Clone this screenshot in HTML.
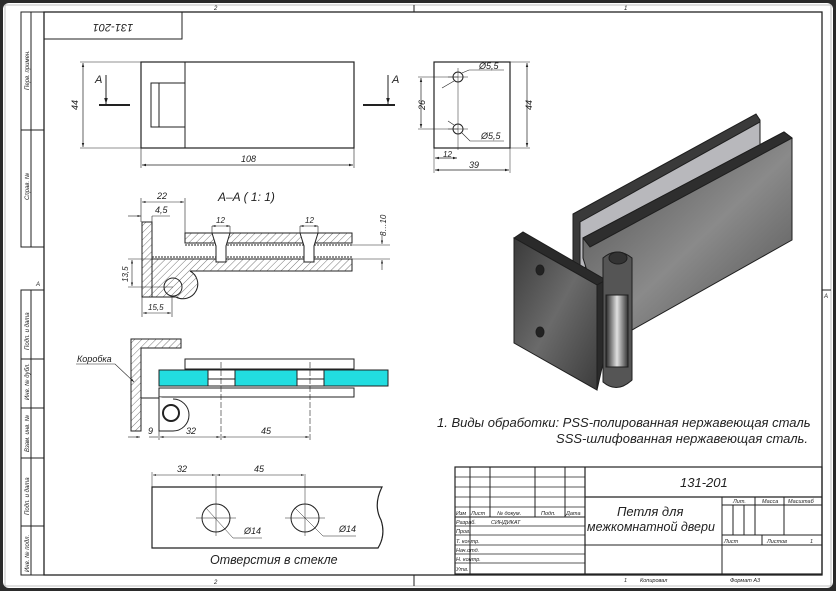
<!DOCTYPE html>
<html><head><meta charset="utf-8"><style>
html,body{margin:0;padding:0;background:#fff;}
svg{display:block;}
text{font-family:"Liberation Sans","DejaVu Sans",sans-serif;font-style:italic;fill:#222;}
</style></head><body>
<svg width="836" height="591" viewBox="0 0 836 591" xmlns="http://www.w3.org/2000/svg">
<defs>
<pattern id="h" width="5" height="5" patternUnits="userSpaceOnUse" patternTransform="rotate(45)">
<rect width="5" height="5" fill="#fff"/><line x1="0" y1="0" x2="0" y2="5" stroke="#555" stroke-width="0.8"/></pattern>
<linearGradient id="g1" x1="0" y1="0" x2="1" y2="1"><stop offset="0" stop-color="#3a3a3a"/><stop offset="0.5" stop-color="#6a6a6a"/><stop offset="1" stop-color="#3c3c3c"/></linearGradient>
<linearGradient id="g2" x1="0" y1="0" x2="1" y2="1"><stop offset="0" stop-color="#4a4a4a"/><stop offset="0.55" stop-color="#8a8a8a"/><stop offset="1" stop-color="#505050"/></linearGradient>
<linearGradient id="g3" x1="0" y1="0" x2="1" y2="0"><stop offset="0" stop-color="#2a2a2a"/><stop offset="0.5" stop-color="#e0e0e0"/><stop offset="1" stop-color="#333"/></linearGradient>
<marker id="a" viewBox="0 0 10 10" refX="10" refY="5" markerWidth="6" markerHeight="6" orient="auto-start-reverse"><path d="M0,2L10,5L0,8z" fill="#222"/></marker>
</defs>
<rect x="0" y="0" width="836" height="591" fill="#2b2b2b"/>
<rect x="3" y="3" width="830" height="585" rx="6" fill="#fff"/>
<g fill="none" stroke="#222" stroke-width="1">
<rect x="5" y="5" width="826" height="581" stroke="#999" stroke-width="0.6"/>
<rect x="44" y="12" width="778" height="563" stroke-width="1.3"/>
<line x1="414" y1="5" x2="414" y2="12"/><line x1="414" y1="575" x2="414" y2="586"/>
<line x1="822" y1="290" x2="831" y2="290"/>
<!-- left stamps -->
<rect x="21" y="12" width="23" height="235"/><line x1="31" y1="12" x2="31" y2="247"/><line x1="21" y1="130" x2="44" y2="130"/>
<rect x="21" y="290" width="23" height="285"/><line x1="31" y1="290" x2="31" y2="575"/>
<line x1="21" y1="359" x2="44" y2="359"/><line x1="21" y1="408" x2="44" y2="408"/><line x1="21" y1="458" x2="44" y2="458"/><line x1="21" y1="526" x2="44" y2="526"/>
<rect x="44" y="12" width="138" height="27"/>
</g>
<text x="214" y="10" font-size="6" stroke="none">2</text><text x="624" y="10" font-size="6">1</text>
<text x="214" y="584" font-size="6">2</text>
<text x="36" y="286" font-size="6">A</text><text x="824" y="298" font-size="6">A</text>
<g font-size="6" fill="#333">
<text transform="translate(29,90) rotate(-90)">Перв. примен.</text>
<text transform="translate(29,200) rotate(-90)">Справ. №</text>
<text transform="translate(29,350) rotate(-90)">Подп. и дата</text>
<text transform="translate(29,400) rotate(-90)">Инв. № дубл.</text>
<text transform="translate(29,452) rotate(-90)">Взам. инв. №</text>
<text transform="translate(29,515) rotate(-90)">Подп. и дата</text>
<text transform="translate(29,572) rotate(-90)">Инв. № подл.</text>
</g>
<text transform="translate(113,24) rotate(180)" font-size="11" text-anchor="middle">131-201</text>

<g fill="none" stroke="#222" stroke-width="1">
<!-- top view -->
<rect x="141" y="62" width="213" height="86" stroke-width="1.2"/>
<line x1="185" y1="62" x2="185" y2="148"/>
<rect x="151" y="83" width="34" height="44"/><line x1="159" y1="83" x2="159" y2="127"/>
<line x1="80" y1="62" x2="141" y2="62" stroke-width="0.6"/><line x1="80" y1="148" x2="141" y2="148" stroke-width="0.6"/>
<line x1="83" y1="63" x2="83" y2="147" stroke-width="0.7" marker-start="url(#a)" marker-end="url(#a)"/>
<line x1="141" y1="148" x2="141" y2="168" stroke-width="0.6"/><line x1="354" y1="148" x2="354" y2="168" stroke-width="0.6"/>
<line x1="142" y1="165" x2="353" y2="165" stroke-width="0.7" marker-start="url(#a)" marker-end="url(#a)"/>
<line x1="106" y1="75" x2="106" y2="104" stroke-width="1" marker-end="url(#a)"/><line x1="99" y1="105" x2="130" y2="105" stroke-width="2"/>
<line x1="388" y1="75" x2="388" y2="104" stroke-width="1" marker-end="url(#a)"/><line x1="363" y1="105" x2="395" y2="105" stroke-width="2"/>
</g>
<text x="78" y="110" font-size="9" transform="rotate(-90 78 110)">44</text>
<text x="241" y="162" font-size="9">108</text>
<text x="95" y="83" font-size="11">A</text><text x="392" y="83" font-size="11">A</text>

<!-- right small view -->
<g fill="none" stroke="#222" stroke-width="1">
<rect x="434" y="62" width="76" height="86" stroke-width="1.2"/>
<circle cx="458" cy="77" r="5"/><circle cx="458" cy="129" r="5"/>
<line x1="458" y1="68" x2="458" y2="150" stroke-width="0.5"/><line x1="448" y1="77" x2="468" y2="77" stroke-width="0.5"/><line x1="448" y1="129" x2="468" y2="129" stroke-width="0.5"/>
<line x1="418" y1="77" x2="458" y2="77" stroke-width="0.5"/><line x1="418" y1="129" x2="458" y2="129" stroke-width="0.5"/>
<line x1="421" y1="78" x2="421" y2="128" stroke-width="0.7" marker-start="url(#a)" marker-end="url(#a)"/>
<line x1="510" y1="62" x2="530" y2="62" stroke-width="0.5"/><line x1="510" y1="148" x2="530" y2="148" stroke-width="0.5"/>
<line x1="527" y1="63" x2="527" y2="147" stroke-width="0.7" marker-start="url(#a)" marker-end="url(#a)"/>
<line x1="434" y1="148" x2="434" y2="173" stroke-width="0.5"/><line x1="510" y1="148" x2="510" y2="173" stroke-width="0.5"/>
<line x1="435" y1="158" x2="457" y2="158" stroke-width="0.7" marker-start="url(#a)" marker-end="url(#a)"/>
<line x1="435" y1="170" x2="509" y2="170" stroke-width="0.7" marker-start="url(#a)" marker-end="url(#a)"/>
<path d="M442,88L454,81M462,73L469,70L504,70" stroke-width="0.6"/>
<path d="M448,121L454,125M462,133L470,141L504,141" stroke-width="0.6"/>
</g>
<text x="479" y="69" font-size="9">Ø5,5</text><text x="481" y="139" font-size="9">Ø5,5</text>
<text x="425" y="110" font-size="9" transform="rotate(-90 425 110)">26</text>
<text x="532" y="110" font-size="9" transform="rotate(-90 532 110)">44</text>
<text x="443" y="157" font-size="8">12</text><text x="469" y="168" font-size="9">39</text>

<!-- section A-A -->
<text x="218" y="201" font-size="12">A–A ( 1: 1)</text>
<g stroke="#222" stroke-width="1">
<rect x="142" y="222" width="10" height="75" fill="url(#h)"/>
<rect x="185" y="233" width="167" height="10" fill="url(#h)"/>
<path d="M152,259H352V271H190A14,14 0 0 1 176,297H152Z" fill="url(#h)"/>
<circle cx="173" cy="287" r="9" fill="url(#h)"/>
<line x1="185" y1="245" x2="352" y2="245" stroke-dasharray="2,1"/><line x1="152" y1="257" x2="352" y2="257" stroke-dasharray="2,1"/>
<path d="M212,233H230L226,246V262H216V246Z" fill="#fff"/>
<path d="M300,233H318L314,246V262H304V246Z" fill="#fff"/>
</g>
<g fill="none" stroke="#222" stroke-width="0.6">
<line x1="141" y1="198" x2="141" y2="222"/><line x1="185" y1="198" x2="185" y2="233"/>
<line x1="142" y1="202" x2="184" y2="202" marker-start="url(#a)" marker-end="url(#a)"/>
<line x1="128" y1="216" x2="141" y2="216" marker-end="url(#a)"/><line x1="152" y1="216" x2="170" y2="216"/><line x1="152" y1="216" x2="152" y2="222"/>
<line x1="212" y1="226" x2="212" y2="233"/><line x1="230" y1="226" x2="230" y2="233"/><line x1="212" y1="226" x2="230" y2="226" marker-start="url(#a)" marker-end="url(#a)"/>
<line x1="300" y1="226" x2="300" y2="233"/><line x1="318" y1="226" x2="318" y2="233"/><line x1="300" y1="226" x2="318" y2="226" marker-start="url(#a)" marker-end="url(#a)"/>
<line x1="352" y1="245" x2="390" y2="245"/><line x1="352" y1="259" x2="390" y2="259"/>
<line x1="382" y1="235" x2="382" y2="244" marker-end="url(#a)"/><line x1="382" y1="270" x2="382" y2="260" marker-end="url(#a)"/>
<line x1="128" y1="259" x2="152" y2="259"/><line x1="128" y1="287" x2="173" y2="287"/>
<line x1="132" y1="260" x2="132" y2="286" marker-start="url(#a)" marker-end="url(#a)"/>
<line x1="142" y1="297" x2="142" y2="317"/><line x1="172" y1="296" x2="172" y2="317"/>
<line x1="143" y1="313" x2="171" y2="313" marker-start="url(#a)" marker-end="url(#a)"/>
</g>
<text x="157" y="199" font-size="9">22</text><text x="155" y="213" font-size="9">4,5</text>
<text x="216" y="223" font-size="8">12</text><text x="305" y="223" font-size="8">12</text>
<text x="386" y="236" font-size="8" transform="rotate(-90 386 236)">8…10</text>
<text x="128" y="282" font-size="8" transform="rotate(-90 128 282)">13,5</text>
<text x="148" y="310" font-size="8">15,5</text>

<!-- second section -->
<g stroke="#222" stroke-width="1">
<path d="M131,339H181V348H141V431H131Z" fill="url(#h)"/>
<path d="M141,348V398H159" fill="none"/>
<rect x="185" y="359" width="169" height="10" fill="#fff"/>
<rect x="159" y="388" width="195" height="9" fill="#fff"/>
<path d="M159,370H388V386H159Z" fill="#22dde0"/>
<rect x="208" y="370" width="27" height="16" fill="#fff"/><rect x="297" y="370" width="27" height="16" fill="#fff"/>
<line x1="208" y1="379" x2="235" y2="379"/><line x1="297" y1="379" x2="324" y2="379"/>
<path d="M159,397V431H173A14,14 0 0 0 173,399" fill="#fff"/>
<circle cx="171" cy="413" r="8" fill="#fff" stroke-width="2"/>
</g>
<g fill="none" stroke="#222" stroke-width="0.6">
<line x1="221" y1="362" x2="221" y2="440" stroke-dasharray="6,2"/><line x1="310" y1="362" x2="310" y2="440" stroke-dasharray="6,2"/>
<line x1="159" y1="398" x2="159" y2="440"/>
<line x1="128" y1="437" x2="140" y2="437" marker-end="url(#a)"/><line x1="149" y1="437" x2="158" y2="437"/>
<line x1="160" y1="437" x2="220" y2="437" marker-start="url(#a)" marker-end="url(#a)"/>
<line x1="222" y1="437" x2="309" y2="437" marker-start="url(#a)" marker-end="url(#a)"/>
<path d="M76,364H115L134,382" marker-end="url(#a)"/>
</g>
<text x="77" y="362" font-size="9">Коробка</text>
<text x="148" y="434" font-size="9">9</text><text x="186" y="434" font-size="9">32</text><text x="261" y="434" font-size="9">45</text>

<!-- glass holes -->
<g fill="none" stroke="#222" stroke-width="1">
<path d="M152,487H382Q373,505 381,520Q386,535 378,548H152Z" stroke-width="1.2"/>
<circle cx="216" cy="518" r="14"/><circle cx="305" cy="518" r="14"/>
<g stroke-width="0.5"><line x1="196" y1="518" x2="236" y2="518"/><line x1="216" y1="474" x2="216" y2="536"/><line x1="285" y1="518" x2="325" y2="518"/><line x1="305" y1="474" x2="305" y2="536"/>
<line x1="152" y1="472" x2="152" y2="487"/>
<line x1="153" y1="475" x2="215" y2="475" marker-start="url(#a)" marker-end="url(#a)"/><line x1="217" y1="475" x2="304" y2="475" marker-start="url(#a)" marker-end="url(#a)"/>
<path d="M206,508L233,538H262"/><path d="M295,508L323,536H356"/></g>
</g>
<text x="177" y="472" font-size="9">32</text><text x="254" y="472" font-size="9">45</text>
<text x="244" y="534" font-size="9">Ø14</text><text x="339" y="532" font-size="9">Ø14</text>
<text x="210" y="564" font-size="12.5">Отверстия в стекле</text>

<!-- 3D render -->
<g stroke="#1e1e1e" stroke-width="1">
<polygon points="573,214 756,114 760,120 760,170 580,270 573,262" fill="#3a3a3a"/>
<polygon points="580,222 760,122 760,170 580,270" fill="#b8b8bc"/>
<polygon points="583,238 784,132 792,138 792,240 632,330 600,312 583,258" fill="url(#g2)"/>
<polygon points="583,238 784,132 792,138 590,247" fill="#2e2e2e"/>
<polygon points="514,238 523,232 606,280 597,285" fill="#2a2a2a"/>
<polygon points="514,238 597,285 597,390 514,343" fill="url(#g1)"/>
<polygon points="597,285 606,280 606,350 597,390" fill="#2a2a2a"/>
<path d="M603,258Q617,246 632,258V380Q617,394 603,382Z" fill="#555"/>
<ellipse cx="618" cy="258" rx="9" ry="6" fill="#333"/>
<rect x="606" y="295" width="22" height="72" fill="url(#g3)"/>
<ellipse cx="540" cy="270" rx="4" ry="5" fill="#222"/>
<ellipse cx="540" cy="332" rx="4" ry="5" fill="#222"/>
</g>

<!-- notes -->
<text x="437" y="427" font-size="13">1. Виды обработки: PSS-полированная нержавеющая сталь</text>
<text x="808" y="443" font-size="13" text-anchor="end">SSS-шлифованная нержавеющая сталь.</text>

<!-- title block -->
<g fill="none" stroke="#222" stroke-width="1">
<rect x="455" y="467" width="367" height="107" stroke-width="1.2"/>
<line x1="585" y1="467" x2="585" y2="574" stroke-width="1.2"/>
<line x1="470" y1="467" x2="470" y2="574"/><line x1="490" y1="467" x2="490" y2="517"/><line x1="535" y1="467" x2="535" y2="517"/><line x1="565" y1="467" x2="565" y2="517"/>
<g stroke-width="0.7">
<line x1="455" y1="477" x2="585" y2="477"/><line x1="455" y1="487" x2="585" y2="487"/><line x1="455" y1="497" x2="585" y2="497"/><line x1="455" y1="507" x2="585" y2="507"/>
<line x1="455" y1="526" x2="585" y2="526"/><line x1="455" y1="535" x2="585" y2="535"/><line x1="455" y1="545" x2="585" y2="545"/><line x1="455" y1="554" x2="585" y2="554"/><line x1="455" y1="563" x2="585" y2="563"/>
</g>
<line x1="455" y1="517" x2="585" y2="517"/>
<line x1="585" y1="497" x2="822" y2="497" stroke-width="1.2"/>
<line x1="722" y1="497" x2="722" y2="574"/>
<line x1="722" y1="505" x2="822" y2="505"/>
<line x1="755" y1="497" x2="755" y2="535"/><line x1="784" y1="497" x2="784" y2="535"/>
<line x1="733" y1="505" x2="733" y2="535"/><line x1="744" y1="505" x2="744" y2="535"/>
<line x1="722" y1="535" x2="822" y2="535"/><line x1="762" y1="535" x2="762" y2="545"/>
<line x1="585" y1="545" x2="822" y2="545"/>
</g>
<g font-size="5.5">
<text x="456" y="515">Изм</text><text x="471" y="515">Лист</text><text x="497" y="515">№ докум.</text><text x="541" y="515">Подп.</text><text x="566" y="515">Дата</text>
<text x="456" y="524">Разраб.</text><text x="491" y="524">СИНДИКАТ</text>
<text x="456" y="533">Пров.</text><text x="456" y="543">Т. контр.</text><text x="456" y="552">Нач.отд.</text><text x="456" y="561">Н. контр.</text><text x="456" y="571">Утв.</text>
<text x="733" y="503">Лит.</text><text x="762" y="503">Масса</text><text x="788" y="503">Масштаб</text>
<text x="724" y="543">Лист</text><text x="767" y="543">Листов</text><text x="810" y="543">1</text>
<text x="624" y="582">1</text><text x="640" y="582">Копировал</text><text x="730" y="582">Формат А3</text>
</g>
<text x="680" y="487" font-size="13">131-201</text>
<text x="617" y="516" font-size="13">Петля для</text>
<text x="587" y="531" font-size="12.5">межкомнатной двери</text>
</svg>
</body></html>
